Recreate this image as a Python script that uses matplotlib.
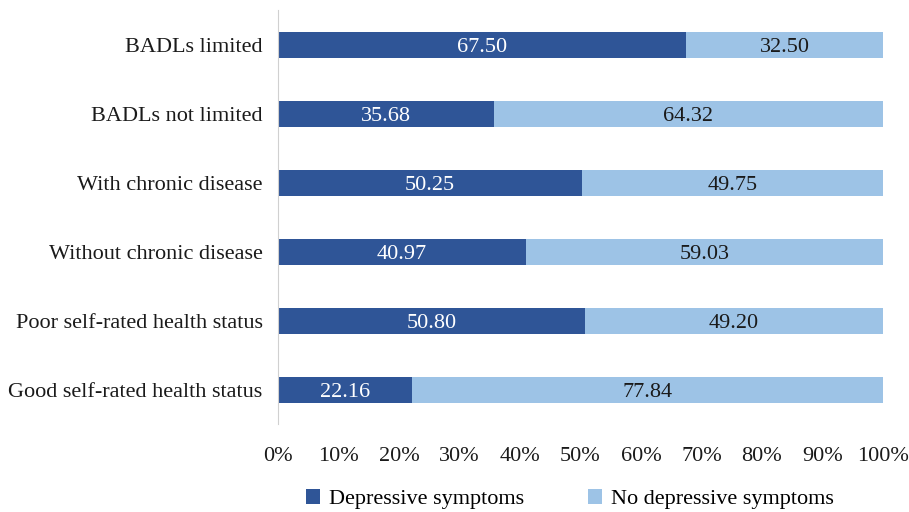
import matplotlib.pyplot as plt
from matplotlib.ticker import PercentFormatter

plt.rcParams['font.family'] = ['Liberation Serif', 'DejaVu Serif']

categories = [
    "BADLs limited",
    "BADLs not limited",
    "With chronic disease",
    "Without chronic disease",
    "Poor self-rated health status",
    "Good self-rated health status",
]
depressive = [67.50, 35.68, 50.25, 40.97, 50.80, 22.16]
not_depressive = [32.50, 64.32, 49.75, 59.03, 49.20, 77.84]

dark = '#2F5597'
light = '#9DC3E6'

fig = plt.figure(figsize=(9.09, 5.12), dpi=100)
ax = fig.add_axes([0.3058, 0.1709, 0.6656, 0.8086])

y = list(range(len(categories)))[::-1]
b1 = ax.barh(y, depressive, height=0.39, color=dark, label='Depressive symptoms')
b2 = ax.barh(y, not_depressive, left=depressive, height=0.39, color=light,
             label='No depressive symptoms')

# value labels, nudged down a touch so the digits sit in the middle of the bar
for yi, d, n in zip(y, depressive, not_depressive):
    ax.text(d / 2, yi - 0.04, f"{d:.2f}", ha='center', va='center', color='white', fontsize=16)
    ax.text(d + n / 2, yi - 0.04, f"{n:.2f}", ha='center', va='center', color='#1a1a1a', fontsize=16)

ax.set_xlim(0, 100)
ax.set_ylim(-0.5, 5.5)
ax.set_xticks(range(0, 101, 10))
ax.xaxis.set_major_formatter(PercentFormatter(decimals=0))
ax.set_yticks(y)
ax.set_yticklabels(categories)
ax.tick_params(axis='both', length=0, labelsize=16, colors='#1a1a1a')
ax.tick_params(axis='x', pad=16)
ax.tick_params(axis='y', pad=11)

for side in ['top', 'right', 'bottom']:
    ax.spines[side].set_visible(False)
ax.spines['left'].set_color('#d0d0d0')

fig.legend(handles=[b1, b2], loc='lower center', bbox_to_anchor=(0.627, -0.034), ncol=2,
           frameon=False, fontsize=16, handlelength=0.6, handleheight=0.7,
           columnspacing=2.9, handletextpad=0.4)

fig.savefig('out.png', dpi=100)
